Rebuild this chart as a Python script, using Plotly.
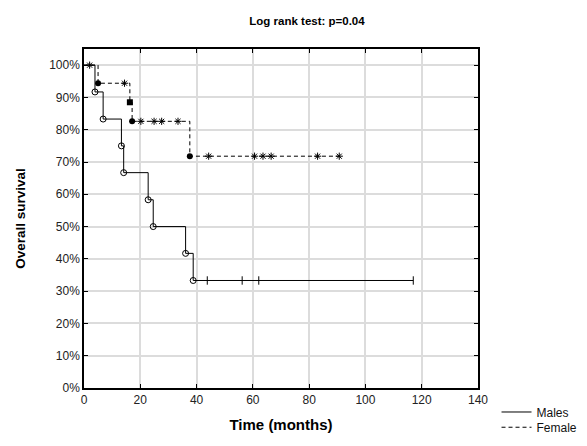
import plotly.graph_objects as go

# Kaplan-Meier steps (time in months, survival in %)
male_time = [0, 3.9, 6.8, 13.3, 14.1, 22.8, 24.6, 36.1, 38.8]
male_surv = [100, 91.7, 83.3, 75.0, 66.7, 58.3, 50.0, 41.7, 33.3]
male_censor_time = [43.8, 56.2, 62.1, 117.0]

female_time = [0, 5.0, 16.3, 17.1, 37.6]
female_surv = [100, 94.4, 88.5, 82.6, 71.8]
female_censor_time = [2.0, 14.4, 20.2, 24.9, 27.6, 33.4, 44.3, 60.6, 63.6, 66.5, 83.0, 90.7]

x_ticks = [0, 20, 40, 60, 80, 100, 120, 140]
y_ticks = [0, 10, 20, 30, 40, 50, 60, 70, 80, 90, 100]
y_tick_labels = ["0%", "10%", "20%", "30%", "40%", "50%", "60%", "70%", "80%", "90%", "100%"]


def step_value(times, surv, t):
    v = surv[0]
    for ti, si in zip(times, surv):
        if ti <= t:
            v = si
    return v


def step_line(times, surv, end):
    return list(times) + [end], list(surv) + [surv[-1]]


FONT = "Liberation Sans, Arial, sans-serif"
fig = go.Figure()

# Males
mx, my = step_line(male_time, male_surv, max(male_censor_time))
fig.add_trace(go.Scatter(x=mx, y=my, mode="lines", line=dict(color="black", width=1, shape="hv"),
                         name="Males", showlegend=True, legend="legend"))
fig.add_trace(go.Scatter(x=male_time[1:], y=male_surv[1:], mode="markers",
                         marker=dict(symbol="circle-open", size=6, color="black", line=dict(width=1)),
                         showlegend=False, hoverinfo="skip"))
fig.add_trace(go.Scatter(x=male_censor_time,
                         y=[step_value(male_time, male_surv, t) for t in male_censor_time],
                         mode="markers",
                         marker=dict(symbol="line-ns-open", size=6, color="black", line=dict(width=1, color="black")),
                         showlegend=False, hoverinfo="skip"))

# Females
fx, fy = step_line(female_time, female_surv, max(female_censor_time))
fig.add_trace(go.Scatter(x=fx, y=fy, mode="lines", line=dict(color="black", width=1, shape="hv", dash="4px,3px"),
                         name="Female", showlegend=True, legend="legend2"))
female_symbols = ["circle", "square", "circle", "circle"]
fig.add_trace(go.Scatter(x=female_time[1:], y=female_surv[1:], mode="markers",
                         marker=dict(symbol=female_symbols, size=6, color="black"),
                         showlegend=False, hoverinfo="skip"))
fig.add_trace(go.Scatter(x=female_censor_time,
                         y=[step_value(female_time, female_surv, t) for t in female_censor_time],
                         mode="markers",
                         marker=dict(symbol="asterisk-open", size=6, color="black", line=dict(width=1, color="#333")),
                         showlegend=False, hoverinfo="skip"))

legend_common = dict(x=1.047, xanchor="left", yanchor="top", bgcolor="rgba(0,0,0,0)",
                     font=dict(family=FONT, size=12, color="#111"), itemwidth=30)

fig.update_layout(
    width=587, height=446,
    margin=dict(l=76, r=87, t=41, b=47),
    paper_bgcolor="white", plot_bgcolor="white",
    font=dict(family=FONT, size=12, color="#222"),
    title=dict(text="<b>Log rank test: p=0.04</b>", x=299 / 587, xanchor="center", y=1 - 13 / 446,
               yanchor="middle", font=dict(family=FONT, size=11.5, color="black")),
    legend=dict(y=-0.028, **legend_common),
    legend2=dict(y=-0.073, **legend_common),
)
fig.update_xaxes(range=[0, 140], tickvals=x_ticks, ticks="inside", ticklen=4, tickcolor="black",
                 showline=True, linecolor="black", linewidth=1.5, mirror="ticks",
                 showgrid=True, gridcolor="#dcdcdc", gridwidth=1.5, zeroline=False,
                 tickfont=dict(size=12, color="#222"),
                 title=dict(text="<b>Time (months)</b>", font=dict(family=FONT, size=15, color="black"), standoff=13))
fig.update_yaxes(range=[0, 105], tickvals=y_ticks, ticktext=y_tick_labels, ticks="inside", ticklen=4,
                 tickcolor="black",
                 showline=True, linecolor="black", linewidth=1.5, mirror="ticks",
                 showgrid=True, gridcolor="#dcdcdc", gridwidth=1.5, zeroline=False,
                 tickfont=dict(size=12, color="#222"),
                 title=dict(text="<b>Overall survival</b>", font=dict(family=FONT, size=13.5, color="black"),
                            standoff=20))

fig.write_html("out.html")
